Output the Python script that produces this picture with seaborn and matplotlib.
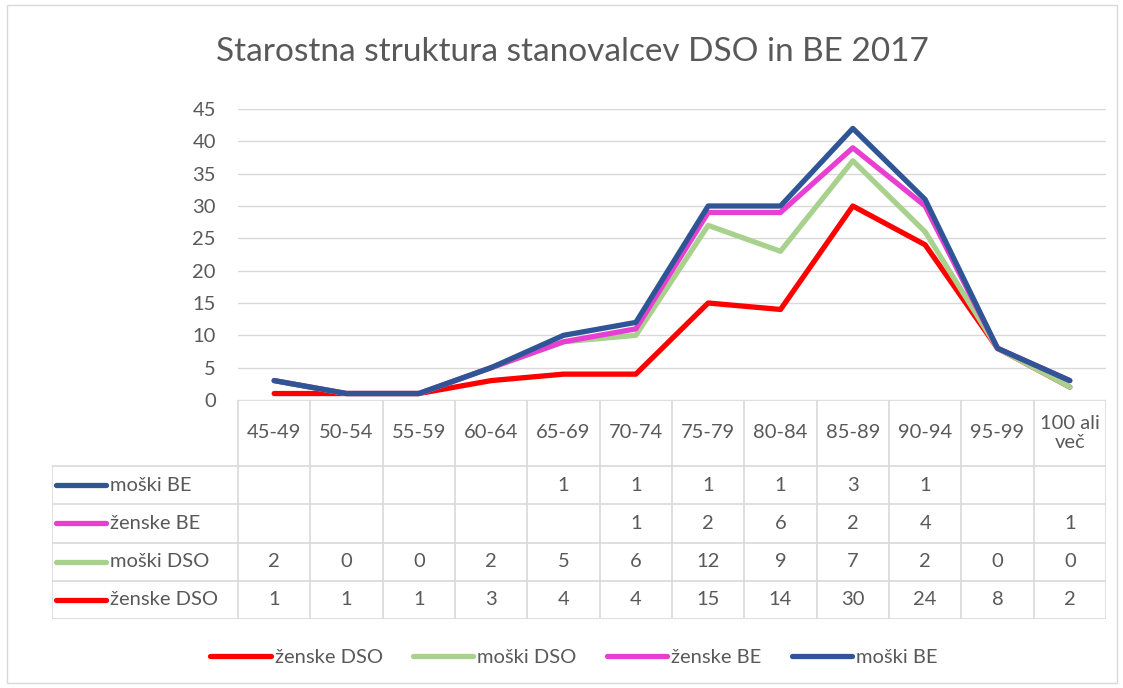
import matplotlib.pyplot as plt
import seaborn as sns
import pandas as pd
from matplotlib.patches import Rectangle
from matplotlib.lines import Line2D

ages = ["45-49", "50-54", "55-59", "60-64", "65-69", "70-74", "75-79",
        "80-84", "85-89", "90-94", "95-99", "100 ali\nveč"]
zenske_dso = [1, 1, 1, 3, 4, 4, 15, 14, 30, 24, 8, 2]
moski_dso = [2, 0, 0, 2, 5, 6, 12, 9, 7, 2, 0, 0]
zenske_be = [None, None, None, None, None, 1, 2, 6, 2, 4, None, 1]
moski_be = [None, None, None, None, 1, 1, 1, 1, 3, 1, None, None]

names = ["ženske DSO", "moški DSO", "ženske BE", "moški BE"]
colors = ["#ff0000", "#a9d18e", "#e83fd2", "#2f5597"]
series = [zenske_dso, moski_dso, zenske_be, moski_be]

# stacked line chart: cumulative sums
rows = []
running = [0] * len(ages)
for name, vals in zip(names, series):
    running = [r + (v or 0) for r, v in zip(running, vals)]
    for i, c in enumerate(running):
        rows.append({"age": i, "value": c, "series": name})
df = pd.DataFrame(rows)

sns.set_theme(style="white")
plt.rcParams["font.family"] = ["Lato", "DejaVu Sans"]
txt = "#595959"
grid = "#d9d9d9"
fs = 14.5

W, H = 1123, 688
fig = plt.figure(figsize=(W / 100, H / 100), dpi=100)
fig.patches.append(Rectangle((7 / W, 5 / H), 1110 / W, 678 / H, transform=fig.transFigure,
                             fill=False, edgecolor=grid, lw=1))

x0, x1 = 238, 1106
ax = fig.add_axes([x0 / W, 1 - 400 / H, (x1 - x0) / W, (400 - 109) / H])
sns.lineplot(data=df, x="age", y="value", hue="series", hue_order=names, palette=colors,
             lw=3.8, legend=False, ax=ax, solid_capstyle="round", solid_joinstyle="round")
ax.set_xlim(-0.5, len(ages) - 0.5)
ax.set_ylim(0, 45)
ax.set_yticks(range(0, 46, 5))
ax.yaxis.grid(True, color=grid, lw=1)
ax.set_xticks([])
ax.set_xlabel("")
ax.set_ylabel("")
for s in ax.spines.values():
    s.set_visible(False)
ax.tick_params(axis="y", labelsize=fs, colors=txt, pad=16, length=0)
fig.text(572 / W, 1 - 52 / H, "Starostna struktura stanovalcev DSO in BE 2017",
         ha="center", va="center", fontsize=24, color=txt)

# data table
colw = (x1 - x0) / len(ages)
tx0 = 52
left = -0.5 - (x0 - tx0) / colw
rowh = (619 - 466) / 4
head = (466 - 400) / rowh
tab = fig.add_axes([tx0 / W, 1 - 619 / H, (x1 - tx0) / W, (619 - 400) / H])
tab.set_xlim(left, len(ages) - 0.5)
tab.set_ylim(0, 4 + head)
tab.axis("off")
n = len(ages)
tab.hlines(4 + head, -0.5, n - 0.5, color=grid, lw=1.2)
tab.hlines(range(5), left, n - 0.5, color=grid, lw=1.2)
tab.vlines([i - 0.5 for i in range(n + 1)], 0, 4 + head, color=grid, lw=1.2)
tab.vlines(left, 0, 4, color=grid, lw=1.2)
for i, a in enumerate(ages):
    tab.text(i, 4 + head / 2, a, ha="center", va="center", fontsize=fs, color=txt,
             linespacing=1.15)
for k, idx in enumerate([3, 2, 1, 0]):
    yc = 3.5 - k
    kx = left + 4 / colw
    tab.plot([kx, kx + 50 / colw], [yc, yc], color=colors[idx], lw=3.8,
             solid_capstyle="round")
    tab.text(kx + 54 / colw, yc, names[idx], ha="left", va="center", fontsize=fs, color=txt)
    for i, v in enumerate(series[idx]):
        if v is not None:
            tab.text(i, yc, str(v), ha="center", va="center", fontsize=fs, color=txt)

handles = [Line2D([], [], color=c, lw=3.8, solid_capstyle="round") for c in colors]
fig.legend(handles, names, loc="center", bbox_to_anchor=(574 / W, 1 - 657 / H), ncol=4,
           frameon=False, fontsize=fs, handlelength=3.0, handletextpad=0.2,
           columnspacing=1.5, labelcolor=txt)

fig.savefig("out.png", dpi=100)
